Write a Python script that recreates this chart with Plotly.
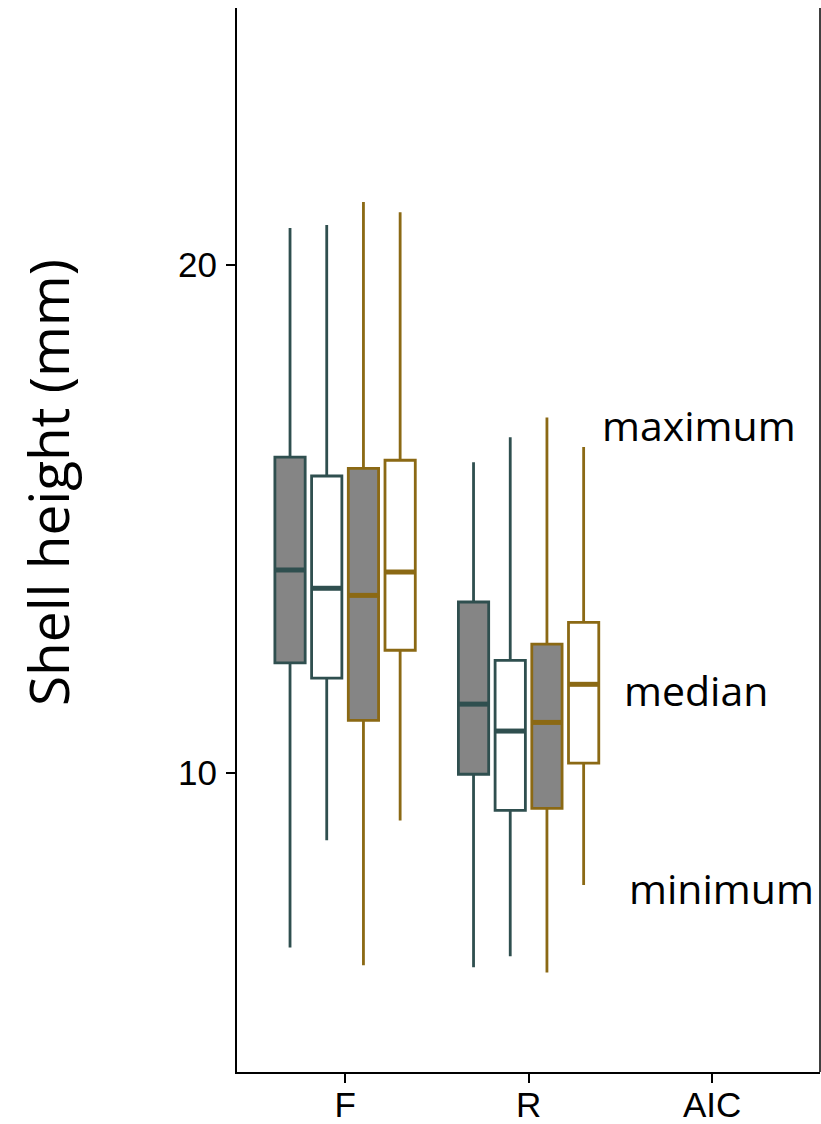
import plotly.graph_objects as go

# ---------------- data ----------------
categories = ["F", "R", "AIC"]
series_names = ["Group 1", "Group 2", "Group 3", "Group 4"]

# per series: values for categories F and R (AIC has no data)
lower = [[6.57, 6.18], [8.68, 6.40], [6.22, 6.08], [9.07, 7.80]]
q1 = [[12.17, 9.98], [11.87, 9.27], [11.04, 9.31], [12.42, 10.20]]
median = [[14.00, 11.36], [13.64, 10.83], [13.50, 11.00], [13.96, 11.75]]
q3 = [[16.22, 13.37], [15.85, 12.22], [16.00, 12.54], [16.16, 12.97]]
upper = [[20.73, 16.12], [20.79, 16.61], [21.24, 17.00], [21.04, 16.42]]

y_tick_values = [10, 20]
annotation_texts = ["maximum", "median", "minimum"]
annotation_y = [16.85, 11.63, 7.74]
annotation_x = [1.93, 1.91, 2.05]
y_title = "Shell height (mm)"

# ---------------- style ----------------
slate = "#2F4F4F"
gold = "#8B6914"
gray = "#858585"
line_colors = [slate, slate, gold, gold]
fill_colors = [gray, "white", gray, "white"]
offsets = [-0.3, -0.1, 0.1, 0.3]
box_w = 0.165

fig = go.Figure()
data_cats = categories[:2]
for i, name in enumerate(series_names):
    xs = [categories.index(c) + offsets[i] for c in data_cats]
    fig.add_trace(go.Box(
        name=name,
        x=xs,
        q1=q1[i], median=median[i], q3=q3[i],
        lowerfence=lower[i], upperfence=upper[i],
        width=box_w,
        whiskerwidth=0,
        boxpoints=False,
        fillcolor=fill_colors[i],
        line=dict(color=line_colors[i], width=2.8),
        showlegend=False,
        hoverinfo="skip",
    ))
    # thicker median lines
    for x0, m in zip(xs, median[i]):
        fig.add_trace(go.Scatter(
            x=[x0 - box_w / 2, x0 + box_w / 2], y=[m, m],
            mode="lines",
            line=dict(color=line_colors[i], width=5),
            showlegend=False, hoverinfo="skip",
        ))

for t, xa, ya in zip(annotation_texts, annotation_x, annotation_y):
    fig.add_annotation(
        x=xa, y=ya, xref="x", yref="y", text=t, showarrow=False,
        xanchor="center", yanchor="middle",
        font=dict(family="Open Sans", size=41, color="black"),
    )

# y-axis title
fig.add_annotation(
    x=-0.324, y=0.5536, xref="paper", yref="paper", text=y_title,
    showarrow=False, textangle=-90, xanchor="center", yanchor="middle",
    font=dict(family="Open Sans", size=55, color="black"),
)

# right border line
fig.add_shape(type="line", xref="paper", yref="paper", x0=1, x1=1, y0=0, y1=1,
              line=dict(color="black", width=1.5))

fig.update_layout(
    width=821, height=1124,
    margin=dict(l=237, r=1, t=8, b=52),
    paper_bgcolor="white", plot_bgcolor="white",
    showlegend=False,
    xaxis=dict(
        range=[-0.589, 2.588], automargin=False,
        tickmode="array", tickvals=[0, 1, 2], ticktext=categories,
        showgrid=False, zeroline=False,
        showline=True, linecolor="black", linewidth=2,
        ticks="outside", ticklen=9, tickwidth=2, tickcolor="black",
        tickfont=dict(family="Liberation Sans", size=35, color="black"),
    ),
    yaxis=dict(
        range=[4.12, 25.06], automargin=False,
        tickmode="array", tickvals=y_tick_values,
        showgrid=False, zeroline=False,
        showline=True, linecolor="black", linewidth=2,
        ticks="outside", ticklen=9, tickwidth=2, tickcolor="black",
        tickfont=dict(family="Liberation Sans", size=35, color="black"),
    ),
)

try:
    fig.update_xaxes(ticklabelstandoff=-8)
    fig.update_yaxes(ticklabelstandoff=2)
except Exception:
    fig.update_xaxes(ticklen=4)

fig.write_html("out.html")
